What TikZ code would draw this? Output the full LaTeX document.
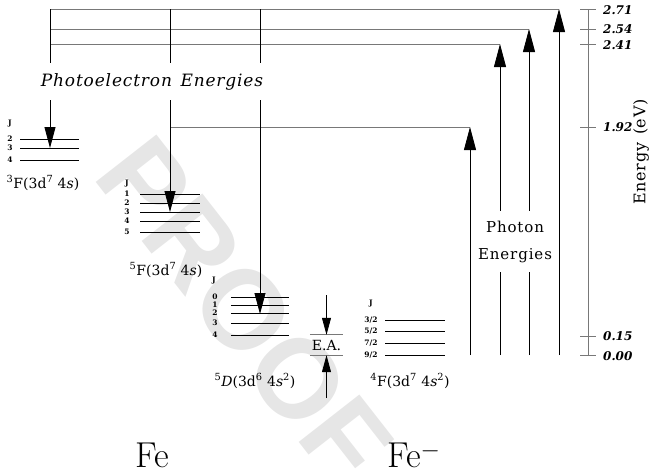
\documentclass[tikz,border=0pt]{standalone}
\usepackage{fontspec}
\newfontfamily\schfont{DejaVu Serif}
\newfontfamily\markfont{Liberation Sans}
\usetikzlibrary{arrows.meta}
\definecolor{feedgray}{RGB}{120,120,120}
\definecolor{markgray}{RGB}{230,230,230}
\tikzset{
    state/.style={line width=0.8pt,draw=black},
    feed/.style={line width=0.8pt,draw=feedgray},
    beam/.style={line width=0.8pt,draw=black},
    down/.style={beam,-{Triangle[length=21pt,width=11pt]}},
    up/.style={beam,-{Triangle[length=23pt,width=12pt]}},
    eatip/.style={beam,-{Triangle[length=17pt,width=9pt]}},
    jlab/.style={
        font=\schfont\bfseries\fontsize{7.5}{8}\selectfont,inner sep=0pt,
        text height=5pt,text depth=0pt
    },
    term/.style={
        font=\schfont\fontsize{14}{16}\selectfont,inner sep=0pt
    },
    tick/.style={
        font=\schfont\bfseries\itshape\fontsize{12}{14}\selectfont,
        anchor=west,inner sep=0pt
    },
    caption/.style={
        font=\schfont\fontsize{15}{27}\selectfont\addfontfeature{LetterSpace=6},
        align=center,inner sep=0pt
    },
    species/.style={
        font=\fontsize{36}{40}\selectfont,inner sep=0pt,anchor=base
    }
}

\begin{document}
\begin{tikzpicture}[x=1pt,y=-1pt]
\useasboundingbox (0,0) rectangle (660,474);

\node[
font=\markfont\bfseries\fontsize{112}{112}\selectfont,
text=markgray,rotate=-52,inner sep=0pt
](proof) at (244,310){PROOF};

% feeding lines
\coordinate (t1) at (50,9);
\coordinate (t2) at (50,29);
\coordinate (t3) at (50,44);
\coordinate (t4) at (170,127);
\coordinate (s1) at (170,9);
\coordinate (s2) at (260,9);
\coordinate (p1t) at (470,127);
\coordinate (p2t) at (500,44);
\coordinate (p3t) at (529,29);
\coordinate (p4t) at (559,9);
\coordinate (p1b) at (470,355);
\coordinate (p2b) at (500,355);
\coordinate (p3b) at (529,355);
\coordinate (p4b) at (559,355);

\draw[feed](t1)--(p4t);
\draw[feed](t2)--(p3t);
\draw[feed](t3)--(p2t);
\draw[feed](t4)--(p1t);

\node[caption,font=\schfont\itshape\fontsize{17}{20}\selectfont\addfontfeature{LetterSpace=5},
minimum height=37pt](pe) at (152,81.5){Photoelectron\hspace{0.5em}Energies};

\node[caption,minimum height=61pt](ph) at (515,241.5){Photon\\Energies};

% Fe levels
\draw[state](20,139)--(79,139);
\draw[state](20,148)--(79,148);
\draw[state](20,160)--(79,160);
\node[jlab](f3j) at (10,123){J};
\node[jlab](f3a) at (10,139){2};
\node[jlab](f3b) at (10,148){3};
\node[jlab](f3c) at (10,160){4};
\coordinate (f3tip) at (50,148);
\node[term](f3) at (43,183){\textsuperscript{3}F(3d\textsuperscript{7} 4\textit{s})};

\draw[state](140,194)--(200,194);
\draw[state](140,203)--(200,203);
\draw[state](140,212)--(200,212);
\draw[state](140,221)--(200,221);
\draw[state](140,232)--(200,232);
\node[jlab](f5j) at (127,183){J};
\node[jlab](f5a) at (127,194){1};
\node[jlab](f5b) at (127,203){2};
\node[jlab](f5c) at (127,212){3};
\node[jlab](f5d) at (127,221){4};
\node[jlab](f5e) at (127,232){5};
\coordinate (f5tip) at (170,212);
\node[term](f5) at (166,270){\textsuperscript{5}F(3d\textsuperscript{7} 4\textit{s})};

\draw[state](231,297)--(289,297);
\draw[state](231,305)--(289,305);
\draw[state](231,313)--(289,313);
\draw[state](231,323)--(289,323);
\draw[state](231,335)--(289,335);
\node[jlab](d5j) at (214,280){J};
\node[jlab](d5a) at (215,297){0};
\node[jlab](d5b) at (215,305){1};
\node[jlab](d5c) at (215,313){2};
\node[jlab](d5d) at (215,323){3};
\node[jlab](d5e) at (215,335){4};
\coordinate (d5tip) at (260,314);
\node[term](d5) at (255,381){\textsuperscript{5}\textit{D}(3d\textsuperscript{6} 4\textit{s}\textsuperscript{2})};

% Fe- levels
\draw[state](385,320)--(445,320);
\draw[state](385,331)--(445,331);
\draw[state](385,343)--(445,343);
\draw[state](385,355)--(445,355);
\node[jlab](f4j) at (371,303){J};
\node[jlab](f4a) at (371,320){3/2};
\node[jlab](f4b) at (371,331){5/2};
\node[jlab](f4c) at (371,343){7/2};
\node[jlab](f4d) at (371,355){9/2};
\node[term](f4) at (410,381){\textsuperscript{4}F(3d\textsuperscript{7} 4\textit{s}\textsuperscript{2})};

% photoelectrons
\draw[beam](t1)--(pe.north -| t1);
\draw[down](pe.south -| t1)--(f3tip);
\draw[beam](s1)--(pe.north -| s1);
\draw[down](pe.south -| s1)--(f5tip);
\draw[beam](s2)--(pe.north -| s2);
\draw[down](pe.south -| s2)--(d5tip);

% photons
\draw[up](p1b)--(p1t);
\draw[beam](p2b)--(ph.south -| p2b);
\draw[up](ph.north -| p2b)--(p2t);
\draw[beam](p3b)--(ph.south -| p3b);
\draw[up](ph.north -| p3b)--(p3t);
\draw[up](p4b)--(p4t);

% electron affinity
\node[term,minimum width=33pt,minimum height=20pt](ea) at (326.5,345){E.A.};
\draw[feed](ea.north west)--(ea.north east);
\draw[feed](ea.south west)--(ea.south east);
\coordinate (eatop) at (ea.north |- 0,295);
\coordinate (eabot) at (ea.south |- 0,398);
\draw[eatip](eatop)--(ea.north);
\draw[eatip](eabot)--(ea.south);

% energy axis
\coordinate (axt) at (588,9);
\coordinate (axb) at (588,355);
\draw[feed](axt)--(axb);
\draw[feed](580,9)--(596,9);
\draw[feed](580,29)--(596,29);
\draw[feed](580,44)--(596,44);
\draw[feed](580,127)--(596,127);
\draw[feed](580,336)--(596,336);
\draw[feed](580,355)--(596,355);
\node[tick](e1) at (603,10){2.71};
\node[tick](e2) at (603,29){2.54};
\node[tick](e3) at (603,45){2.41};
\node[tick](e4) at (603,127){1.92};
\node[tick](e5) at (603,336){0.15};
\node[tick](e6) at (603,356){0.00};
\node[caption,rotate=90,font=\schfont\fontsize{16}{18}\selectfont\addfontfeature{LetterSpace=4}](ylab) at (641,152){Energy\hspace{0.5em}(eV)};

\node[species](fe) at (152,467){Fe};
\node[species,anchor=base west](feneg) at (387,467){Fe$^{-}$};

\end{tikzpicture}
\end{document}
